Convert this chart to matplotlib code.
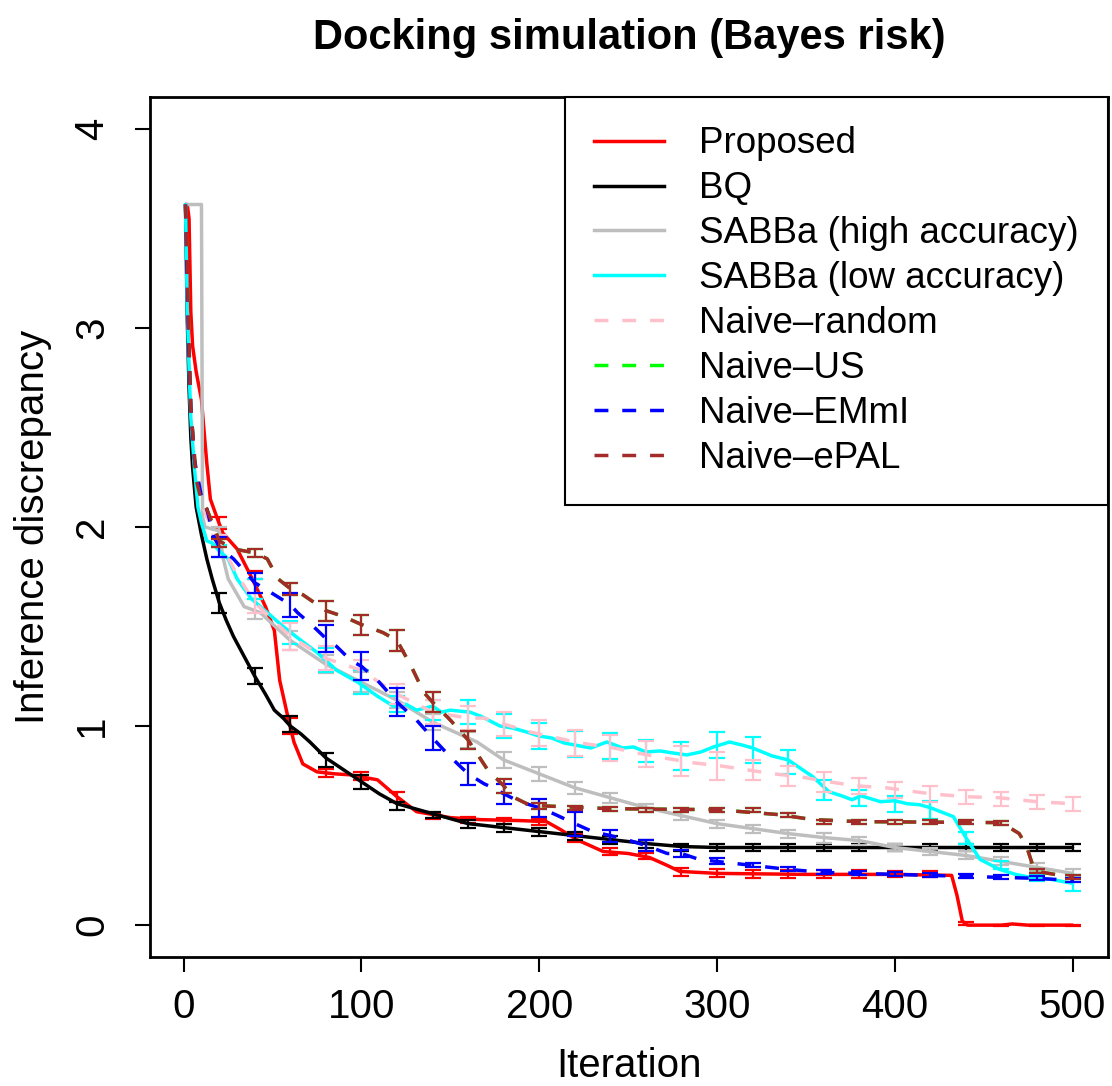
import matplotlib
matplotlib.use("Agg")
import matplotlib.pyplot as plt
from matplotlib.lines import Line2D

plt.rcParams['font.family'] = ['Liberation Sans', 'DejaVu Sans']

# error bars every 20 iterations
bar_x = [20, 40, 60, 80, 100, 120, 140, 160, 180, 200, 220, 240, 260,
         280, 300, 320, 340, 360, 380, 400, 420, 440, 460, 480, 500]

# Proposed
prop_x = [1, 2, 3, 4, 5, 7, 10, 11, 13, 15, 19, 22, 30, 38, 46, 51, 54, 58, 62, 67, 75, 85, 94,
          109, 120, 131, 150, 167, 190, 204, 212, 221, 236, 250, 262, 272, 279, 300, 350, 400,
          432, 435, 438, 441, 460, 466, 475, 500]
prop_y = [3.62, 3.62, 3.55, 3.08, 2.91, 2.78, 2.64, 2.53, 2.32, 2.14, 2.04, 1.97, 1.89, 1.75, 1.60,
          1.48, 1.23, 1.07, 0.92, 0.81, 0.77, 0.76, 0.755, 0.73, 0.645, 0.57, 0.54, 0.53, 0.525,
          0.52, 0.48, 0.43, 0.37, 0.36, 0.34, 0.30, 0.27, 0.26, 0.255, 0.255, 0.25, 0.15, 0.02,
          0.0, 0.0, 0.006, 0.0, 0.0]
prop_m = [2.02, 1.76, 1.00, 0.765, 0.75, 0.645, 0.55, 0.53, 0.525, 0.52, 0.44, 0.37, 0.345,
          0.265, 0.26, 0.255, 0.255, 0.255, 0.255, 0.255, 0.255, 0.01, 0.0, 0.0, 0.0]
prop_e = [0.03, 0.02, 0.04, 0.02, 0.02, 0.025, 0.015, 0.015, 0.015, 0.015, 0.02, 0.02, 0.015,
          0.02, 0.02, 0.02, 0.02, 0.02, 0.02, 0.015, 0.015, 0.008, 0.003, 0.003, 0.003]

# BQ
bq_x = [1, 2, 3, 4, 5, 7, 10, 13, 16, 20, 24, 28, 34, 40, 46, 51, 56, 60, 66, 71, 80, 90, 100,
        110, 120, 140, 160, 180, 200, 220, 240, 260, 280, 300, 500]
bq_y = [3.62, 3.05, 2.7, 2.45, 2.3, 2.1, 1.96, 1.84, 1.74, 1.62, 1.53, 1.45, 1.35, 1.25, 1.16,
        1.08, 1.04, 1.0, 0.96, 0.92, 0.84, 0.78, 0.72, 0.66, 0.61, 0.56, 0.51, 0.49, 0.47, 0.45,
        0.43, 0.41, 0.395, 0.39, 0.39]
bq_m = [1.62, 1.25, 1.01, 0.83, 0.72, 0.60, 0.555, 0.51, 0.49, 0.47, 0.45, 0.43, 0.41, 0.39,
        0.39, 0.39, 0.39, 0.39, 0.39, 0.39, 0.39, 0.39, 0.39, 0.39, 0.39]
bq_e = [0.05, 0.04, 0.04, 0.035, 0.035, 0.02, 0.015, 0.02, 0.02, 0.02, 0.02, 0.02, 0.02, 0.02,
        0.02, 0.02, 0.02, 0.02, 0.02, 0.02, 0.02, 0.02, 0.02, 0.02, 0.02]

# SABBa (high accuracy)
sh_x = [1, 10, 10.6, 12, 16, 20, 22, 25, 34, 43, 60, 80, 100, 120, 140, 165, 180, 200, 220, 240,
        260, 280, 300, 320, 340, 360, 380, 400, 420, 440, 460, 480, 500]
sh_y = [3.62, 3.62, 2.05, 2.0, 1.99, 1.98, 1.85, 1.74, 1.60, 1.57, 1.43, 1.31, 1.22, 1.13, 1.02,
        0.92, 0.83, 0.76, 0.69, 0.64, 0.59, 0.55, 0.51, 0.485, 0.46, 0.44, 0.425, 0.39, 0.37,
        0.35, 0.32, 0.29, 0.26]
sh_m = [1.98, 1.59, 1.43, 1.31, 1.22, 1.13, 1.02, 0.93, 0.83, 0.76, 0.69, 0.64, 0.59, 0.55,
        0.51, 0.485, 0.46, 0.44, 0.425, 0.39, 0.37, 0.35, 0.32, 0.29, 0.26]
sh_e = [0.02, 0.05, 0.05, 0.045, 0.05, 0.04, 0.04, 0.04, 0.04, 0.035, 0.03, 0.025, 0.02, 0.02,
        0.02, 0.02, 0.02, 0.025, 0.02, 0.02, 0.02, 0.02, 0.02, 0.02, 0.02]

# SABBa (low accuracy)
sl_x = [1, 2, 3, 4, 6, 8, 10, 13, 16, 20, 25, 30, 38, 47, 56, 66, 75, 86, 98, 109, 118, 125, 131,
        140, 145, 150, 161, 167, 178, 185, 193, 200, 207, 214, 229, 238, 247, 253, 260, 268, 275,
        283, 291, 298, 307, 314, 320, 331, 340, 354, 363, 370, 376, 381, 392, 400, 407, 414, 420,
        433, 440, 448, 459, 468, 476, 488, 500]
sl_y = [3.62, 3.1, 2.8, 2.55, 2.3, 2.1, 2.02, 1.93, 1.92, 1.88, 1.84, 1.74, 1.64, 1.57, 1.50,
        1.43, 1.37, 1.28, 1.22, 1.15, 1.10, 1.11, 1.08, 1.10, 1.07, 1.08, 1.07, 1.05, 1.0, 0.99,
        0.97, 0.95, 0.94, 0.915, 0.89, 0.92, 0.89, 0.895, 0.87, 0.875, 0.865, 0.855, 0.87, 0.895,
        0.92, 0.905, 0.89, 0.85, 0.83, 0.745, 0.67, 0.65, 0.63, 0.65, 0.62, 0.625, 0.61, 0.605,
        0.59, 0.545, 0.44, 0.33, 0.28, 0.255, 0.24, 0.23, 0.21]
sl_m = [1.88, 1.69, 1.47, 1.33, 1.22, 1.11, 1.08, 1.07, 1.0, 0.95, 0.91, 0.90, 0.875, 0.85,
        0.905, 0.88, 0.82, 0.68, 0.64, 0.61, 0.58, 0.44, 0.30, 0.235, 0.21]
sl_e = [0.03, 0.05, 0.06, 0.06, 0.06, 0.04, 0.05, 0.06, 0.06, 0.065, 0.065, 0.065, 0.055, 0.07,
        0.065, 0.065, 0.06, 0.05, 0.04, 0.04, 0.045, 0.03, 0.02, 0.015, 0.04]

# Naive-random
rnd_x = [1, 2, 3, 4, 7, 10, 13, 20, 30, 40, 60, 80, 100, 120, 140, 160, 169, 195, 223, 242, 255,
         270, 287, 302, 317, 332, 347, 363, 378, 395, 420, 440, 459, 480, 500]
rnd_y = [3.62, 3.2, 2.9, 2.6, 2.25, 2.12, 2.05, 1.93, 1.76, 1.62, 1.45, 1.34, 1.28, 1.16, 1.07,
         1.04, 1.04, 0.97, 0.915, 0.89, 0.865, 0.84, 0.815, 0.80, 0.78, 0.76, 0.745, 0.72, 0.70,
         0.69, 0.66, 0.645, 0.64, 0.62, 0.61]
rnd_m = [1.93, 1.62, 1.45, 1.34, 1.28, 1.16, 1.07, 1.04, 1.01, 0.965, 0.915, 0.89, 0.86, 0.825,
         0.80, 0.78, 0.75, 0.72, 0.70, 0.68, 0.66, 0.645, 0.635, 0.62, 0.61]
rnd_e = [0.03, 0.05, 0.07, 0.06, 0.05, 0.05, 0.06, 0.06, 0.06, 0.065, 0.065, 0.065, 0.065, 0.075,
         0.07, 0.05, 0.05, 0.05, 0.04, 0.04, 0.04, 0.035, 0.035, 0.035, 0.035]

# Naive-ePAL
epal_x = [1, 2, 3, 4, 7, 10, 13, 20, 28, 40, 47, 53, 60, 67, 80, 90, 100, 112, 120, 128, 135, 140,
          150, 160, 171, 180, 185, 193, 200, 240, 300, 335, 354, 380, 460, 470, 474, 478, 480, 500]
epal_y = [3.62, 3.3, 2.91, 2.6, 2.24, 2.13, 2.09, 1.93, 1.89, 1.87, 1.84, 1.74, 1.69, 1.66, 1.58,
          1.55, 1.51, 1.47, 1.43, 1.30, 1.17, 1.12, 1.03, 0.93, 0.78, 0.70, 0.645, 0.61, 0.60,
          0.585, 0.58, 0.555, 0.53, 0.52, 0.515, 0.46, 0.40, 0.29, 0.27, 0.24]
epal_m = [1.92, 1.87, 1.69, 1.58, 1.51, 1.43, 1.12, 0.93, 0.70, 0.60, 0.59, 0.585, 0.58, 0.58,
          0.58, 0.58, 0.555, 0.52, 0.52, 0.52, 0.52, 0.52, 0.515, 0.27, 0.24]
epal_e = [0.02, 0.02, 0.03, 0.05, 0.05, 0.055, 0.05, 0.045, 0.035, 0.015, 0.01, 0.01, 0.01, 0.01,
          0.01, 0.01, 0.01, 0.01, 0.01, 0.01, 0.01, 0.01, 0.01, 0.01, 0.01]

# Naive-US is hidden below Naive-ePAL
us_x, us_y, us_m, us_e = epal_x, epal_y, epal_m, epal_e

# Naive-EMmI
emmi_x = [1, 2, 3, 4, 6, 10, 13, 17, 20, 28, 40, 51, 60, 64, 73, 80, 86, 94, 100, 109, 120, 131,
          140, 150, 160, 169, 174, 180, 189, 200, 208, 220, 230, 240, 249, 260, 272, 280, 290, 300,
          320, 340, 360, 380, 400, 420, 440, 460, 480, 500]
emmi_y = [3.62, 3.2, 2.85, 2.6, 2.34, 2.15, 2.09, 1.95, 1.90, 1.84, 1.72, 1.66, 1.61, 1.57, 1.50,
          1.44, 1.40, 1.33, 1.30, 1.23, 1.12, 1.03, 0.94, 0.845, 0.76, 0.71, 0.69, 0.66, 0.62,
          0.59, 0.56, 0.51, 0.47, 0.45, 0.43, 0.40, 0.36, 0.36, 0.33, 0.32, 0.30, 0.28, 0.265,
          0.26, 0.255, 0.25, 0.245, 0.24, 0.235, 0.225]
emmi_m = [1.90, 1.72, 1.61, 1.44, 1.30, 1.12, 0.94, 0.76, 0.66, 0.59, 0.51, 0.45, 0.40, 0.36,
          0.32, 0.30, 0.28, 0.265, 0.26, 0.255, 0.25, 0.245, 0.24, 0.235, 0.225]
emmi_e = [0.05, 0.05, 0.06, 0.07, 0.07, 0.07, 0.06, 0.055, 0.05, 0.045, 0.06, 0.03, 0.03, 0.02,
          0.015, 0.01, 0.01, 0.01, 0.01, 0.01, 0.01, 0.01, 0.01, 0.01, 0.01]

labels = ["Proposed", "BQ", "SABBa (high accuracy)", "SABBa (low accuracy)",
          "Naive\u2013random", "Naive\u2013US", "Naive\u2013EMmI", "Naive\u2013ePAL"]
colors = ["#FF0000", "#000000", "#BEBEBE", "#00FFFF",
          "#FFC0CB", "#00FF00", "#0000FF", "#A52A2A"]
dashed = [False, False, False, False, True, True, True, True]

series = [(prop_x, prop_y, prop_m, prop_e), (bq_x, bq_y, bq_m, bq_e),
          (sh_x, sh_y, sh_m, sh_e), (sl_x, sl_y, sl_m, sl_e),
          (rnd_x, rnd_y, rnd_m, rnd_e), (us_x, us_y, us_m, us_e),
          (emmi_x, emmi_y, emmi_m, emmi_e), (epal_x, epal_y, epal_m, epal_e)]

fig = plt.figure(figsize=(11.12, 10.86), dpi=100)
ax = fig.add_axes([150 / 1112, 1 - 957 / 1086, 958 / 1112, 860 / 1086])

dash = (0, (4.0, 4.0))
handles = []
for (sx, sy, sm, se), col, lab, d in zip(series, colors, labels, dashed):
    ls = dash if d else '-'
    ax.plot(sx, sy, color=col, lw=2.5, ls=ls, solid_capstyle='round',
            solid_joinstyle='round', dash_joinstyle='round')
    ax.errorbar(bar_x, sm, yerr=se, fmt='none', ecolor=col, elinewidth=1.6,
                capsize=6, capthick=1.6)
    handles.append(Line2D([], [], color=col, lw=2.5, ls=ls))

ax.set_xlim(-18.96, 519.96)
ax.set_ylim(-0.16, 4.16)
ax.set_xticks([0, 100, 200, 300, 400, 500])
ax.set_yticks([0, 1, 2, 3, 4])
for s in ax.spines.values():
    s.set_linewidth(2.0)
ax.tick_params(length=11, width=1.5, labelsize=29)
ax.tick_params(axis='x', pad=11.5)
ax.tick_params(axis='y', pad=17)
for t in ax.get_yticklabels():
    t.set_rotation(90)
    t.set_va('center')

leg = ax.legend(handles, labels, loc='upper right', bbox_to_anchor=(1, 1),
                borderaxespad=0, fontsize=26.5, handlelength=1.9, handletextpad=0.95,
                borderpad=0.8, labelspacing=0.27, fancybox=False, framealpha=1,
                edgecolor='black')
leg.get_frame().set_linewidth(1.5)

fig.text(629 / 1112, 1 - 38 / 1086, "Docking simulation (Bayes risk)", ha='center',
         va='center', fontsize=30, fontweight='bold')
fig.text(629 / 1112, 1 / 1086, "Iteration", ha='center', va='bottom', fontsize=29)
fig.text(33 / 1112, 1 - 527 / 1086, "Inference discrepancy", ha='center', va='center',
         rotation=90, fontsize=29)

fig.savefig("out.png", dpi=100)
